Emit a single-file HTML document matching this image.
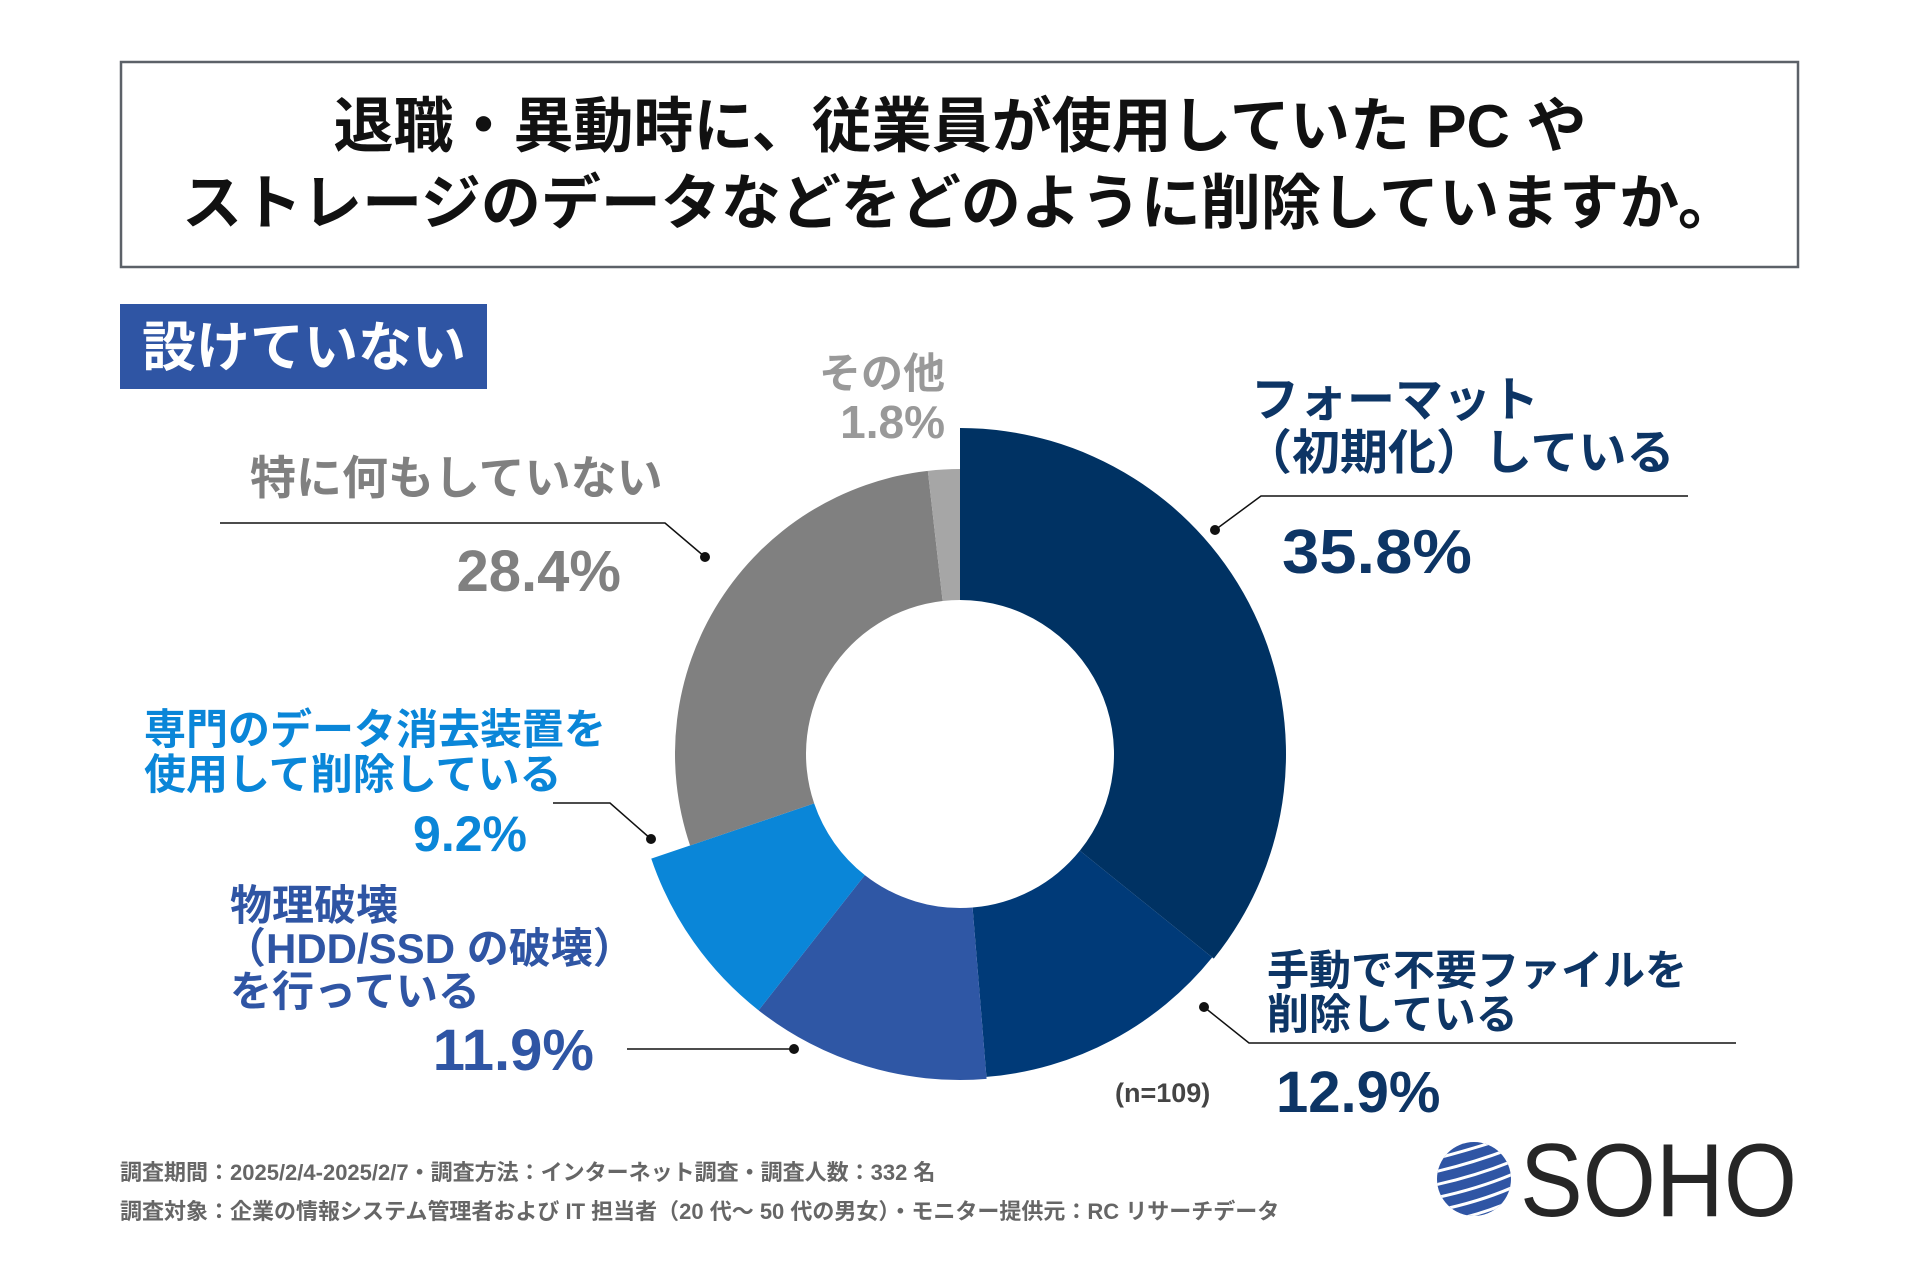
<!DOCTYPE html>
<html><head><meta charset="utf-8">
<style>
html,body{margin:0;padding:0;background:#fff;}
body{width:1920px;height:1280px;overflow:hidden;position:relative;font-family:"Liberation Sans","Noto Sans CJK JP",sans-serif;}
svg text{font-family:"Liberation Sans","Noto Sans CJK JP",sans-serif;font-weight:bold;}
</style></head>
<body>
<svg width="1920" height="1280" viewBox="0 0 1920 1280">
  <rect x="121" y="62" width="1677" height="205" fill="#fff" stroke="#5c6168" stroke-width="2.5"/>
  <text x="960" y="147" text-anchor="middle" font-size="60" fill="#111">退職・異動時に、従業員が使用していた PC や</text>
  <text x="960" y="224" text-anchor="middle" font-size="60" fill="#111">ストレージのデータなどをどのように削除していますか。</text>
  <rect x="120" y="304" width="367" height="85" fill="#2f55a4"/>
  <text x="142" y="366" font-size="54" fill="#fff">設けていない</text>
  <g id="slices"></g>

  <text x="1251" y="416" font-size="48" fill="#0d3565">フォーマット</text>
  <text x="1244" y="469" font-size="48" fill="#0d3565">（初期化）している</text>
  <polyline points="1215,530 1261,496 1688,496" fill="none" stroke="#111" stroke-width="1.5"/>
  <circle cx="1215" cy="530" r="5" fill="#111"/>
  <text id="v0" x="1282" y="573" font-size="62" fill="#0d3565" textLength="190" lengthAdjust="spacingAndGlyphs"></text>

  <text x="1267" y="985" font-size="42" fill="#0d3565">手動で不要ファイルを</text>
  <text x="1267" y="1029" font-size="42" fill="#0d3565">削除している</text>
  <polyline points="1204,1007 1249,1043 1736,1043" fill="none" stroke="#111" stroke-width="1.5"/>
  <circle cx="1204" cy="1007" r="5" fill="#111"/>
  <text id="v1" x="1276" y="1112" font-size="58" fill="#0d3565"></text>
  <text x="1115" y="1102" font-size="27" fill="#444">(n=109)</text>

  <text x="230" y="920" font-size="42" fill="#2f55a4">物理破壊</text>
  <text x="224" y="963" font-size="42" fill="#2f55a4">（HDD/SSD の破壊）</text>
  <text x="230" y="1006" font-size="42" fill="#2f55a4">を行っている</text>
  <line x1="627" y1="1049" x2="794" y2="1049" stroke="#111" stroke-width="1.5"/>
  <circle cx="794" cy="1049" r="5" fill="#111"/>
  <text id="v2" x="594" y="1070" text-anchor="end" font-size="58" fill="#2f55a4"></text>

  <text x="144" y="744" font-size="42" fill="#0a86d8">専門のデータ消去装置を</text>
  <text x="144" y="789" font-size="42" fill="#0a86d8">使用して削除している</text>
  <polyline points="553,803 610,803 651,839" fill="none" stroke="#111" stroke-width="1.5"/>
  <circle cx="651" cy="839" r="5" fill="#111"/>
  <text id="v3" x="527" y="851" text-anchor="end" font-size="50" fill="#0a86d8"></text>

  <text x="250" y="494" font-size="46" fill="#808080">特に何もしていない</text>
  <polyline points="220,523 665,523 705,557" fill="none" stroke="#111" stroke-width="1.5"/>
  <circle cx="705" cy="557" r="5" fill="#111"/>
  <text id="v4" x="621" y="591" text-anchor="end" font-size="58" fill="#808080"></text>

  <text x="945" y="388" text-anchor="end" font-size="42" fill="#999">その他</text>
  <text id="v5" x="945" y="438" text-anchor="end" font-size="46" fill="#999"></text>

  <text x="120" y="1180" font-size="22" fill="#666">調査期間：2025/2/4-2025/2/7・調査方法：インターネット調査・調査人数：332 名</text>
  <text x="120" y="1219" font-size="22" fill="#666">調査対象：企業の情報システム管理者および IT 担当者（20 代～ 50 代の男女）・モニター提供元：RC リサーチデータ</text>

  <g>
    <clipPath id="gc"><circle cx="1474" cy="1179" r="37"/></clipPath>
    <circle cx="1474" cy="1179" r="37" fill="#2f55a4"/>
    <g clip-path="url(#gc)" stroke="#fff" stroke-width="3" fill="none">
      <path d="M1430,1160 Q1470,1150 1515,1135"/>
      <path d="M1430,1173 Q1475,1163 1520,1145"/>
      <path d="M1430,1186 Q1478,1176 1520,1158"/>
      <path d="M1430,1199 Q1480,1189 1520,1171"/>
      <path d="M1430,1212 Q1482,1202 1520,1184"/>
      <path d="M1430,1225 Q1485,1215 1520,1197"/>
    </g>
    <text x="1520" y="1216" font-size="104" fill="#262626" textLength="277" lengthAdjust="spacingAndGlyphs" style="font-weight:normal">SOHO</text>
  </g>
</svg>
<script>
const categories = ["フォーマット（初期化）している","手動で不要ファイルを削除している","物理破壊（HDD/SSDの破壊）を行っている","専門のデータ消去装置を使用して削除している","特に何もしていない","その他"];
const values = [35.8, 12.9, 11.9, 9.2, 28.4, 1.8];
const valueLabels = ["35.8%","12.9%","11.9%","9.2%","28.4%","1.8%"];
const sliceColors = ["#003263","#003a78","#2f57a5","#0a86d8","#808080","#a6a6a6"];
const sliceRadii = [326, 324, 326, 326, 285, 285];
const sliceNames = ["slice-format","slice-manual","slice-physical","slice-dedicated","slice-nothing","slice-other"];
const cx = 960, cy = 754, rIn = 154;
const total = values.reduce((a,b)=>a+b,0);
function angleOf(v){ return v/total*2*Math.PI; }
function pt(r,a){ return [cx + r*Math.sin(a), cy - r*Math.cos(a)]; }
const g = document.getElementById('slices');
let acc = 0;
values.forEach((v,i)=>{
  const a0 = angleOf(acc), a1 = angleOf(acc+v); acc += v;
  const R = sliceRadii[i], large = (a1-a0) > Math.PI ? 1 : 0;
  const p0 = pt(R,a0), p1 = pt(R,a1), q1 = pt(rIn,a1), q0 = pt(rIn,a0);
  const d = `M${p0[0]},${p0[1]} A${R},${R} 0 ${large} 1 ${p1[0]},${p1[1]} L${q1[0]},${q1[1]} A${rIn},${rIn} 0 ${large} 0 ${q0[0]},${q0[1]} Z`;
  const p = document.createElementNS('http://www.w3.org/2000/svg','path');
  p.setAttribute('d', d);
  p.setAttribute('fill', sliceColors[i]);
  
  
  g.appendChild(p);
  const t = document.getElementById('v'+i);
  if (t) t.textContent = valueLabels[i];
});
</script>
</body></html>
